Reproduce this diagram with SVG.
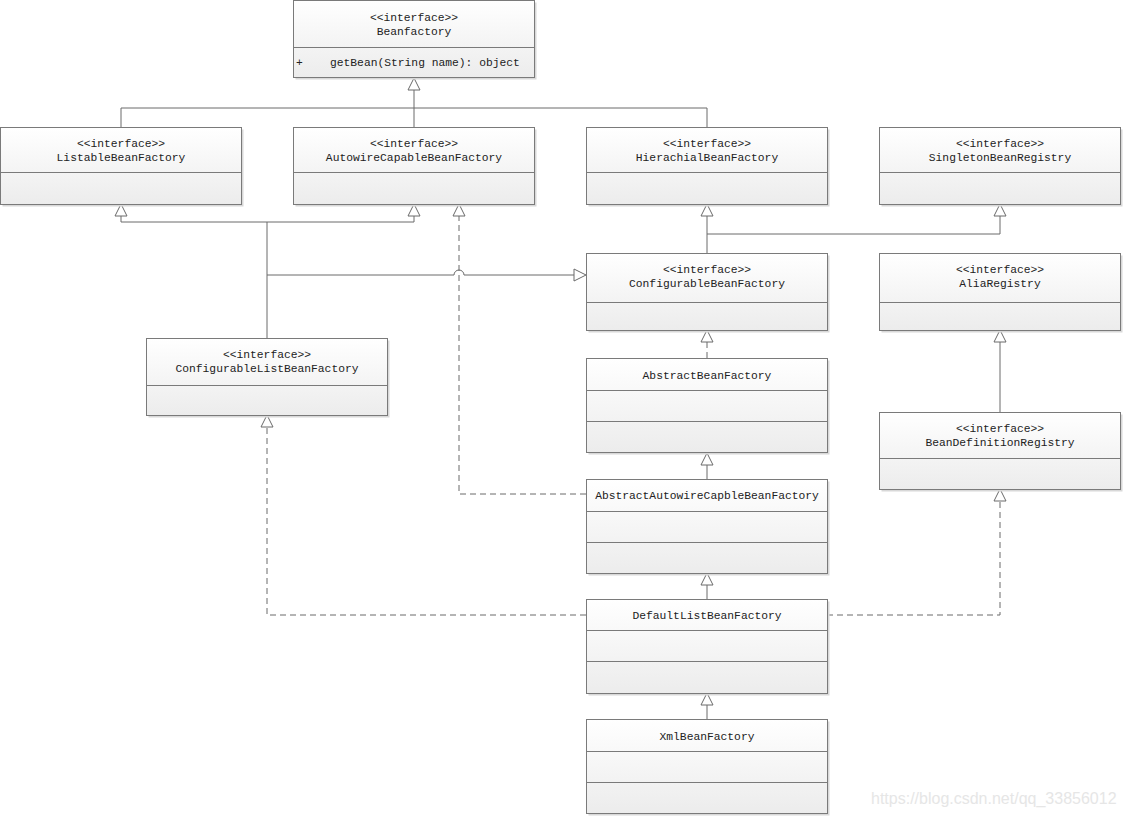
<svg xmlns="http://www.w3.org/2000/svg" width="1124" height="816" viewBox="0 0 1124 816">
<style>
.box{fill:url(#g);stroke:#7a7a7a;stroke-width:1}
.sh{fill:#d8d8d8}
.div{stroke:#7a7a7a;stroke-width:1}
.t{font-family:"Liberation Mono",monospace;font-size:11.3px;fill:#222;text-anchor:middle}
.tl{font-family:"Liberation Mono",monospace;font-size:11.3px;fill:#222}
.c{fill:none;stroke:#6a6a6a;stroke-width:1}
.d{fill:none;stroke:#6a6a6a;stroke-width:1;stroke-dasharray:6,4}
.tri{fill:#fff;stroke:#6a6a6a;stroke-width:1}
.wm{font-family:"Liberation Sans",Arial,sans-serif;font-size:16px;fill:#e6e6e6}
</style>
<defs>
<linearGradient id="g" x1="0" y1="0" x2="0" y2="1">
<stop offset="0" stop-color="#ffffff"/>
<stop offset="1" stop-color="#ececec"/>
</linearGradient>
<path id="tri" d="M0,0 L6,12 L-6,12 Z"/>
</defs>
<rect width="1124" height="816" fill="#fff"/>

<g id="connectors">
<path class="c" d="M414,90 V108 M121,108 H707 M121,108 V127 M414,108 V127 M707,108 V127"/>
<use href="#tri" class="tri" x="414" y="78"/>
<path class="c" d="M121,216 V222 H414 V216 M267,222 V338"/>
<use href="#tri" class="tri" x="121" y="204"/>
<use href="#tri" class="tri" x="414" y="204"/>
<path class="c" d="M267,275 H454 A5,5 0 0 1 464,275 H574"/>
<path class="tri" d="M586,275 L574,269 L574,281 Z"/>
<path class="c" d="M707,216 V253 M707,234 H1000 V216"/>
<use href="#tri" class="tri" x="707" y="204"/>
<use href="#tri" class="tri" x="1000" y="204"/>
<path class="d" d="M707,358 V342"/>
<use href="#tri" class="tri" x="707" y="330"/>
<path class="c" d="M707,465 V479"/>
<use href="#tri" class="tri" x="707" y="453"/>
<path class="d" d="M586,494 H459 V216"/>
<use href="#tri" class="tri" x="459" y="204"/>
<path class="c" d="M707,585 V599"/>
<use href="#tri" class="tri" x="707" y="573"/>
<path class="d" d="M586,615 H267 V427"/>
<use href="#tri" class="tri" x="267" y="415"/>
<path class="d" d="M827,615 H1000 V501"/>
<use href="#tri" class="tri" x="1000" y="489"/>
<path class="c" d="M1000,342 V412"/>
<use href="#tri" class="tri" x="1000" y="330"/>
<path class="c" d="M707,705 V719"/>
<use href="#tri" class="tri" x="707" y="693"/>
</g>

<g id="Beanfactory">
<rect class="sh" x="295.5" y="2.5" width="241" height="77"/>
<rect class="box" x="293.5" y="0.5" width="241" height="77"/>
<line class="div" x1="293.5" y1="47.5" x2="534.5" y2="47.5"/>
<text class="t" x="414" y="21">&lt;&lt;interface&gt;&gt;</text>
<text class="t" x="414" y="35">Beanfactory</text>
<text class="tl" x="296" y="66">+</text>
<text class="tl" x="330" y="66">getBean(String name): object</text>
</g>

<g id="ListableBeanFactory">
<rect class="sh" x="2.5" y="129.5" width="241" height="77"/>
<rect class="box" x="0.5" y="127.5" width="241" height="77"/>
<line class="div" x1="0.5" y1="172.5" x2="241.5" y2="172.5"/>
<text class="t" x="121" y="147">&lt;&lt;interface&gt;&gt;</text>
<text class="t" x="121" y="161">ListableBeanFactory</text>
</g>

<g id="AutowireCapableBeanFactory">
<rect class="sh" x="295.5" y="129.5" width="241" height="77"/>
<rect class="box" x="293.5" y="127.5" width="241" height="77"/>
<line class="div" x1="293.5" y1="172.5" x2="534.5" y2="172.5"/>
<text class="t" x="414" y="147">&lt;&lt;interface&gt;&gt;</text>
<text class="t" x="414" y="161">AutowireCapableBeanFactory</text>
</g>

<g id="HierachialBeanFactory">
<rect class="sh" x="588.5" y="129.5" width="241" height="77"/>
<rect class="box" x="586.5" y="127.5" width="241" height="77"/>
<line class="div" x1="586.5" y1="172.5" x2="827.5" y2="172.5"/>
<text class="t" x="707" y="147">&lt;&lt;interface&gt;&gt;</text>
<text class="t" x="707" y="161">HierachialBeanFactory</text>
</g>

<g id="SingletonBeanRegistry">
<rect class="sh" x="881.5" y="129.5" width="241" height="77"/>
<rect class="box" x="879.5" y="127.5" width="241" height="77"/>
<line class="div" x1="879.5" y1="172.5" x2="1120.5" y2="172.5"/>
<text class="t" x="1000" y="147">&lt;&lt;interface&gt;&gt;</text>
<text class="t" x="1000" y="161">SingletonBeanRegistry</text>
</g>

<g id="ConfigurableBeanFactory">
<rect class="sh" x="588.5" y="255.5" width="241" height="77"/>
<rect class="box" x="586.5" y="253.5" width="241" height="77"/>
<line class="div" x1="586.5" y1="302.5" x2="827.5" y2="302.5"/>
<text class="t" x="707" y="273">&lt;&lt;interface&gt;&gt;</text>
<text class="t" x="707" y="287">ConfigurableBeanFactory</text>
</g>

<g id="AliaRegistry">
<rect class="sh" x="881.5" y="255.5" width="241" height="77"/>
<rect class="box" x="879.5" y="253.5" width="241" height="77"/>
<line class="div" x1="879.5" y1="302.5" x2="1120.5" y2="302.5"/>
<text class="t" x="1000" y="273">&lt;&lt;interface&gt;&gt;</text>
<text class="t" x="1000" y="287">AliaRegistry</text>
</g>

<g id="ConfigurableListBeanFactory">
<rect class="sh" x="148.5" y="340.5" width="241" height="77"/>
<rect class="box" x="146.5" y="338.5" width="241" height="77"/>
<line class="div" x1="146.5" y1="385.5" x2="387.5" y2="385.5"/>
<text class="t" x="267" y="358">&lt;&lt;interface&gt;&gt;</text>
<text class="t" x="267" y="372">ConfigurableListBeanFactory</text>
</g>

<g id="AbstractBeanFactory">
<rect class="sh" x="588.5" y="360.5" width="241" height="94"/>
<rect class="box" x="586.5" y="358.5" width="241" height="94"/>
<line class="div" x1="586.5" y1="390.5" x2="827.5" y2="390.5"/>
<line class="div" x1="586.5" y1="421.5" x2="827.5" y2="421.5"/>
<text class="t" x="707" y="379">AbstractBeanFactory</text>
</g>

<g id="BeanDefinitionRegistry">
<rect class="sh" x="881.5" y="414.5" width="241" height="77"/>
<rect class="box" x="879.5" y="412.5" width="241" height="77"/>
<line class="div" x1="879.5" y1="458.5" x2="1120.5" y2="458.5"/>
<text class="t" x="1000" y="432">&lt;&lt;interface&gt;&gt;</text>
<text class="t" x="1000" y="446">BeanDefinitionRegistry</text>
</g>

<g id="AbstractAutowireCapbleBeanFactory">
<rect class="sh" x="588.5" y="481.5" width="241" height="94"/>
<rect class="box" x="586.5" y="479.5" width="241" height="94"/>
<line class="div" x1="586.5" y1="511.5" x2="827.5" y2="511.5"/>
<line class="div" x1="586.5" y1="542.5" x2="827.5" y2="542.5"/>
<text class="t" x="707" y="499">AbstractAutowireCapbleBeanFactory</text>
</g>

<g id="DefaultListBeanFactory">
<rect class="sh" x="588.5" y="601.5" width="241" height="94"/>
<rect class="box" x="586.5" y="599.5" width="241" height="94"/>
<line class="div" x1="586.5" y1="630.5" x2="827.5" y2="630.5"/>
<line class="div" x1="586.5" y1="661.5" x2="827.5" y2="661.5"/>
<text class="t" x="707" y="619">DefaultListBeanFactory</text>
</g>

<g id="XmlBeanFactory">
<rect class="sh" x="588.5" y="721.5" width="241" height="94"/>
<rect class="box" x="586.5" y="719.5" width="241" height="94"/>
<line class="div" x1="586.5" y1="751.5" x2="827.5" y2="751.5"/>
<line class="div" x1="586.5" y1="782.5" x2="827.5" y2="782.5"/>
<text class="t" x="707" y="740">XmlBeanFactory</text>
</g>

<text class="wm" x="871" y="804">https://blog.csdn.net/qq_33856012</text>
</svg>
